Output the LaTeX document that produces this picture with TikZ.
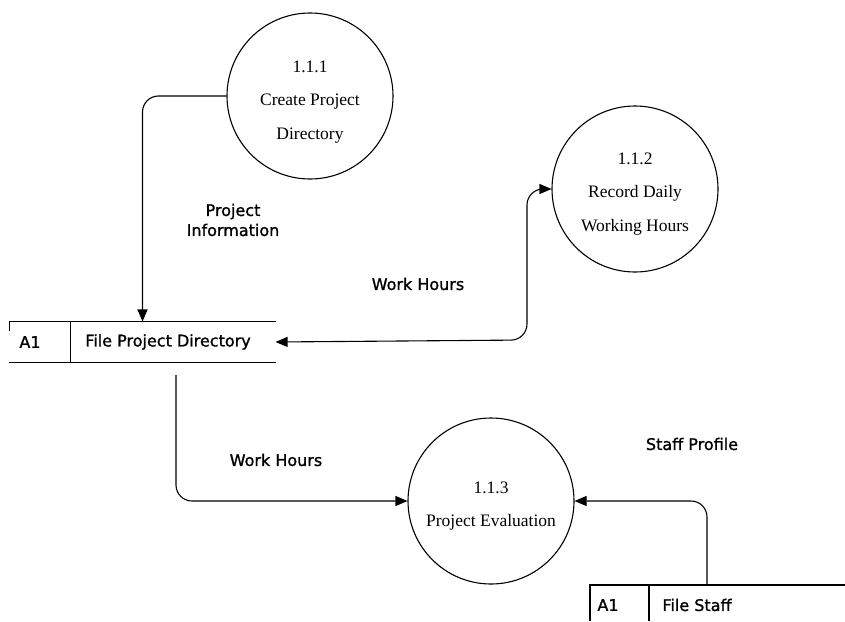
\documentclass[tikz,border=0pt]{standalone}
\usepackage{fontspec}
\setmainfont{Liberation Serif}
\newfontfamily\flowfont[FakeBold=1.2]{DejaVu Sans}
\usetikzlibrary{arrows.meta}

\tikzset{
	process/.style={draw, circle, line width=1.1pt, minimum size=166pt, inner sep=0pt},
	proctext/.style={align=center, inner sep=0pt, font=\fontsize{17.5}{33.5}\selectfont},
	store/.style={minimum height=40pt, inner sep=0pt},
	flowlabel/.style={align=center, inner sep=0pt, font=\flowfont\fontsize{16}{20}\selectfont},
	flow/.style={line width=1.1pt, rounded corners=16pt, -{Triangle[length=12pt,width=10pt]}},
}

\begin{document}
\begin{tikzpicture}[x=1pt, y=-1pt, line width=1.1pt]
		\useasboundingbox (0,0) rectangle (845,621);
		%Prozesse
		\node (p111) [process] at (310,96) {};
		\node (p112) [process] at (635,189) {};
		\node (p113) [process] at (491,501) {};
		\node (p111text) [proctext] at ([yshift=-6pt]p111.center) {1.1.1\\Create Project\\Directory};
		\node (p112text) [proctext] at ([yshift=-5pt]p112.center) {1.1.2\\Record Daily\\Working Hours};
		\node (p113text) [proctext] at ([yshift=-5pt]p113.center) {1.1.3\\Project Evaluation};
		%Datenspeicher
		\node (fpd) [store, minimum width=265pt] at (142.5,342) {};
		\draw (fpd.north west) -- (fpd.north east) (fpd.south west) -- (fpd.south east);
		\draw (fpd.north west) -- ++(0,10) ([xshift=61pt]fpd.north west) -- ([xshift=61pt]fpd.south west);
		\node (fpdid) [flowlabel] at (30,342) {A1};
		\node (fpdname) [flowlabel] at (168,342) {File Project Directory};
		\coordinate (fst) at (590,585);
		\draw (fst |- 0,621) -- (fst) -- (845,585) (fst -| 649,0) -- (649,621);
		\node (fstid) [flowlabel] at (608,605) {A1};
		\node (fstname) [flowlabel] at (697,605) {File Staff};
		%Datenfluesse
		\coordinate (bend112) at (527,340);
		\coordinate (out fpd) at (176,375);
		\coordinate (out fst) at (707,585);
		\draw[flow] (p111.west) -| (fpd.north);
		\draw[flow, {Triangle[length=12pt,width=10pt]}-{Triangle[length=12pt,width=10pt]}] (fpd.east) -- (bend112) |- (p112.west);
		\draw[flow] (out fpd) |- (p113.west);
		\draw[flow] (out fst) |- (p113.east);
		\node (info) [flowlabel] at (233,220) {Project\\Information};
		\node (hours1) [flowlabel] at (418,284) {Work Hours};
		\node (hours2) [flowlabel] at (276,460) {Work Hours};
		\node (staff) [flowlabel] at (692,444) {Staff Profile};
	\end{tikzpicture}
\end{document}
